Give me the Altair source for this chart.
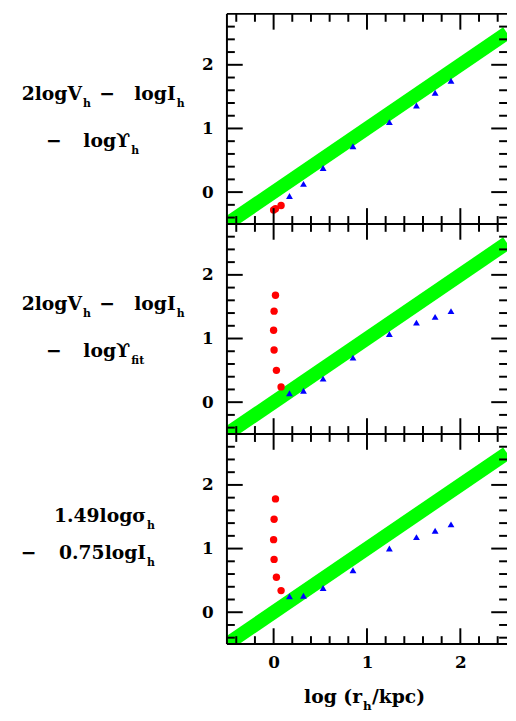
import altair as alt
import pandas as pd

# ---------------- data ----------------
line_x = [-0.5, 2.5]
line_y = [-0.5, 2.5]

blue_x = [0.17, 0.32, 0.53, 0.85, 1.24, 1.53, 1.73, 1.90]

p1_red_x = [0.00, 0.02, 0.08]
p1_red_y = [-0.28, -0.26, -0.21]
p1_blue_y = [-0.06, 0.13, 0.38, 0.72, 1.10, 1.36, 1.56, 1.75]

p2_red_x = [0.02, 0.005, 0.0, 0.005, 0.03, 0.08]
p2_red_y = [1.68, 1.43, 1.13, 0.82, 0.50, 0.24]
p2_blue_y = [0.14, 0.18, 0.37, 0.70, 1.07, 1.25, 1.34, 1.43]

p3_red_x = [0.02, 0.005, 0.0, 0.005, 0.03, 0.08]
p3_red_y = [1.78, 1.46, 1.14, 0.83, 0.55, 0.34]
p3_blue_y = [0.25, 0.26, 0.38, 0.66, 1.00, 1.18, 1.28, 1.38]

x_major = [0, 1, 2]
x_minor = [-0.4, -0.2, 0.2, 0.4, 0.6, 0.8, 1.2, 1.4, 1.6, 1.8, 2.2, 2.4]
y_major = [0, 1, 2]
y_minor = [-0.4, -0.2, 0.2, 0.4, 0.6, 0.8, 1.2, 1.4, 1.6, 1.8, 2.2, 2.4, 2.6]

# ---------------- layout / style ----------------
W, H = 284, 213
S = H / 214.5
FONT = "DejaVu Serif"
MAIN = 19
SUBS = 11
one = pd.DataFrame({"k": [0]})

xs = alt.Scale(domain=[-0.5, 2.5], nice=False, zero=False)
ys = alt.Scale(domain=[-0.5, 2.8], nice=False, zero=False)

yaxis = alt.Axis(values=y_major, ticks=False, domain=False, grid=False, labelFont=FONT,
                 labelFontSize=17, labelFontWeight="bold", labelPadding=14,
                 labelColor="black", title=None, format="d")
xaxis = alt.Axis(values=x_major, ticks=False, domain=False, grid=False, labelFont=FONT,
                 labelFontSize=17, labelFontWeight="bold", labelPadding=11,
                 labelColor="black", title=None, format="d")


def txt(s, x, y, size=MAIN, align="left", weight="bold"):
    return alt.Chart(one).mark_text(text=s, align=align, baseline="alphabetic", font=FONT,
                                    fontSize=size, fontWeight=weight, color="black").encode(
        x=alt.value(x), y=alt.value(y))


def tick_layers(xa):
    out = []
    for vals, ln in ((y_minor, 8), (y_major, 16)):
        df = pd.DataFrame({"t": vals})
        out.append(alt.Chart(df).mark_rule(color="black", strokeWidth=2).encode(
            y=alt.Y("t:Q", scale=ys, axis=yaxis), x=alt.value(0), x2=alt.value(ln)))
        out.append(alt.Chart(df).mark_rule(color="black", strokeWidth=2).encode(
            y=alt.Y("t:Q", scale=ys, axis=yaxis), x=alt.value(W - ln), x2=alt.value(W)))
    for vals, ln in ((x_minor, 8), (x_major, 16)):
        df = pd.DataFrame({"t": vals})
        out.append(alt.Chart(df).mark_rule(color="black", strokeWidth=2).encode(
            x=alt.X("t:Q", scale=xs, axis=xa), y=alt.value(0), y2=alt.value(ln)))
        out.append(alt.Chart(df).mark_rule(color="black", strokeWidth=2).encode(
            x=alt.X("t:Q", scale=xs, axis=xa), y=alt.value(H - ln), y2=alt.value(H)))
    # frame (left, top, bottom)
    out.append(alt.Chart(one).mark_rule(color="black", strokeWidth=2).encode(
        x=alt.value(0), x2=alt.value(W), y=alt.value(0)))
    out.append(alt.Chart(one).mark_rule(color="black", strokeWidth=2).encode(
        x=alt.value(0), x2=alt.value(W), y=alt.value(H)))
    out.append(alt.Chart(one).mark_rule(color="black", strokeWidth=2).encode(
        x=alt.value(0), y=alt.value(0), y2=alt.value(H)))
    return out


def panel(red_x, red_y, blue_y, labels, bottom=False, anchor=False):
    xa = xaxis if bottom else None
    line_df = pd.DataFrame({"x": line_x, "y": line_y})
    red_df = pd.DataFrame({"x": red_x, "y": red_y})
    blue_df = pd.DataFrame({"x": blue_x, "y": blue_y})
    layers = [
        alt.Chart(line_df).mark_line(color="#00ff00", strokeWidth=14, clip=True).encode(
            x=alt.X("x:Q", scale=xs, axis=xa), y=alt.Y("y:Q", scale=ys, axis=yaxis)),
        alt.Chart(blue_df).mark_point(shape="triangle-up", filled=True, color="#0000ff",
                                      size=48, opacity=1).encode(
            x=alt.X("x:Q", scale=xs, axis=xa), y=alt.Y("y:Q", scale=ys, axis=yaxis)),
        alt.Chart(red_df).mark_circle(color="#ff0000", size=56, opacity=1).encode(
            x=alt.X("x:Q", scale=xs, axis=xa), y=alt.Y("y:Q", scale=ys, axis=yaxis)),
    ]
    layers += tick_layers(xa)
    for (s, x, y, align, kind) in labels:
        if kind == "sub":
            layers.append(txt(s, x, y * S, size=SUBS, align=align))
        else:
            layers.append(txt(s, x, y * S, size=MAIN, align=align))
    if bottom:
        layers.append(txt("log (r", 137, H + 59.5, size=MAIN, align="right"))
        layers.append(txt("h", 138, H + 67, size=12, align="left"))
        layers.append(txt("/kpc)", 147, H + 59.5, size=MAIN, align="left"))
    if anchor:
        layers.append(alt.Chart(one).mark_rule(opacity=0, color="white").encode(
            x=alt.value(-222), y=alt.value(100), y2=alt.value(101)))
    return alt.layer(*layers).properties(width=W, height=H)


lab1 = [
    ("2logV", -147, 88, "right", "main"), ("h", -146, 95, "left", "sub"),
    ("\u2212", -121.5, 88, "center", "main"),
    ("logI", -52, 88, "right", "main"), ("h", -51, 95, "left", "sub"),
    ("\u2212", -175.5, 136, "center", "main"),
    ("log\u03d2", -98, 136, "right", "main"), ("h", -97, 143, "left", "sub"),
]
lab2 = [
    ("2logV", -147, 88, "right", "main"), ("h", -146, 95, "left", "sub"),
    ("\u2212", -121.5, 88, "center", "main"),
    ("logI", -52, 88, "right", "main"), ("h", -51, 95, "left", "sub"),
    ("\u2212", -175.5, 136, "center", "main"),
    ("log\u03d2", -98, 136, "right", "main"), ("fit", -97, 143, "left", "sub"),
]
lab3 = [
    ("1.49log\u03c3", -82, 90, "right", "main"), ("h", -81, 97, "left", "sub"),
    ("\u2212", -201, 128, "center", "main"),
    ("0.75logI", -82, 128, "right", "main"), ("h", -81, 135, "left", "sub"),
]

p1 = panel(p1_red_x, p1_red_y, p1_blue_y, lab1, anchor=True)
p2 = panel(p2_red_x, p2_red_y, p2_blue_y, lab2)
p3 = panel(p3_red_x, p3_red_y, p3_blue_y, lab3, bottom=True)

chart = alt.vconcat(p1, p2, p3, spacing=0, bounds="flush").properties(
    padding={"left": 0, "top": 0, "right": 0, "bottom": 0}
).configure_view(strokeWidth=0, stroke="transparent")

chart.save("out.html", embed_options={"renderer": "svg", "actions": False})
